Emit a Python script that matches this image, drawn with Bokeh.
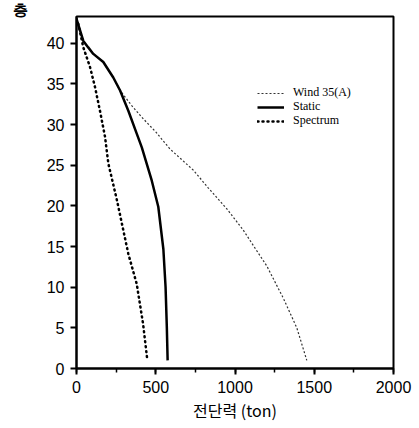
from bokeh.plotting import figure
from bokeh.models import Legend, LegendItem, SingleIntervalTicker, Range1d, Title
from bokeh.embed import file_html
from bokeh.resources import INLINE

# Data (shear force in ton vs. storey)
wind_x = [0, 43, 74, 106, 169, 232, 275, 350, 422, 500, 590, 737, 832, 950, 1053, 1120, 1201, 1306, 1390, 1453]
wind_y = [43, 40.3, 39.5, 38.7, 37.7, 35.8, 34.2, 32.3, 30.7, 29.1, 27.0, 24.4, 22.2, 19.6, 17.0, 15.0, 12.6, 8.6, 5.0, 1.0]

static_x = [0, 43, 74, 106, 169, 232, 275, 327, 380, 412, 475, 516, 548, 562, 570, 575]
static_y = [43, 40.3, 39.5, 38.7, 37.7, 35.8, 34.2, 31.7, 28.9, 27.2, 23.1, 19.9, 14.7, 10.0, 5.0, 1.0]

spec_x = [0, 11, 43, 85, 117, 148, 180, 201, 254, 327, 380, 420, 447]
spec_y = [43, 42.4, 39.5, 37.1, 34.6, 31.7, 28.5, 25.2, 20.8, 14.1, 10.4, 5.5, 1.0]

series_names = ["Wind 35(A)", "Static", "Spectrum"]
x_label = "전단력 (ton)"
y_label = "층"

p = figure(width=419, height=428, output_backend="svg", toolbar_location=None,
           x_range=Range1d(0, 2000), y_range=Range1d(0, 43.3),
           min_border_left=76, min_border_right=26, min_border_top=0, min_border_bottom=60)
p.xgrid.visible = False
p.ygrid.visible = False
p.outline_line_color = "black"
p.outline_line_width = 2
p.background_fill_color = "white"
p.border_fill_color = "white"

r_wind = p.line(wind_x, wind_y, line_color="#333333", line_width=1.2, line_dash="2 2")
r_static = p.line(static_x, static_y, line_color="black", line_width=2.5)
r_spec = p.line(spec_x, spec_y, line_color="black", line_width=2.5, line_dash="1 4", line_cap="round")

p.xaxis.ticker = SingleIntervalTicker(interval=500, num_minor_ticks=2)
p.yaxis.ticker = SingleIntervalTicker(interval=5, num_minor_ticks=0)
for ax in (p.xaxis, p.yaxis):
    ax.axis_line_width = 2
    ax.axis_line_color = "black"
    ax.major_tick_line_width = 2
    ax.major_tick_line_color = "black"
    ax.major_tick_out = 6
    ax.major_tick_in = 0
    ax.major_label_text_font = "Liberation Sans"
    ax.major_label_text_font_size = "16px"
    ax.major_label_text_color = "black"
p.xaxis.minor_tick_out = 4
p.xaxis.minor_tick_in = 0
p.xaxis.minor_tick_line_width = 1.5
p.xaxis.minor_tick_line_color = "black"
p.yaxis.minor_tick_line_color = None
p.xaxis.major_label_standoff = 6
p.yaxis.major_label_standoff = 6

p.xaxis.axis_label = x_label
p.xaxis.axis_label_text_font = "Noto Sans CJK KR"
p.xaxis.axis_label_text_font_size = "16px"
p.xaxis.axis_label_text_font_style = "normal"
p.xaxis.axis_label_text_color = "black"
p.xaxis.axis_label_standoff = 2

ttl = Title(text=y_label, align="left", offset=-64, text_font="Liberation Sans",
            text_font_size="15px", text_font_style="bold", text_color="black",
            standoff=-3, text_line_height=1.0)
p.add_layout(ttl, "above")

renderers = [r_wind, r_static, r_spec]
legend_y = [268, 254, 240]
for name, rend, ly in zip(series_names, renderers, legend_y):
    lg = Legend(items=[LegendItem(label=name, renderers=[rend])], location=(181, ly))
    lg.background_fill_alpha = 0
    lg.border_line_color = None
    lg.padding = 0
    lg.margin = 0
    lg.spacing = 0
    lg.glyph_width = 27
    lg.glyph_height = 10
    lg.label_height = 10
    lg.label_standoff = 9
    lg.label_text_font = "Liberation Serif"
    lg.label_text_font_size = "12px"
    lg.label_text_color = "black"
    p.add_layout(lg, "center")

open("out.html", "w").write(file_html(p, INLINE))
